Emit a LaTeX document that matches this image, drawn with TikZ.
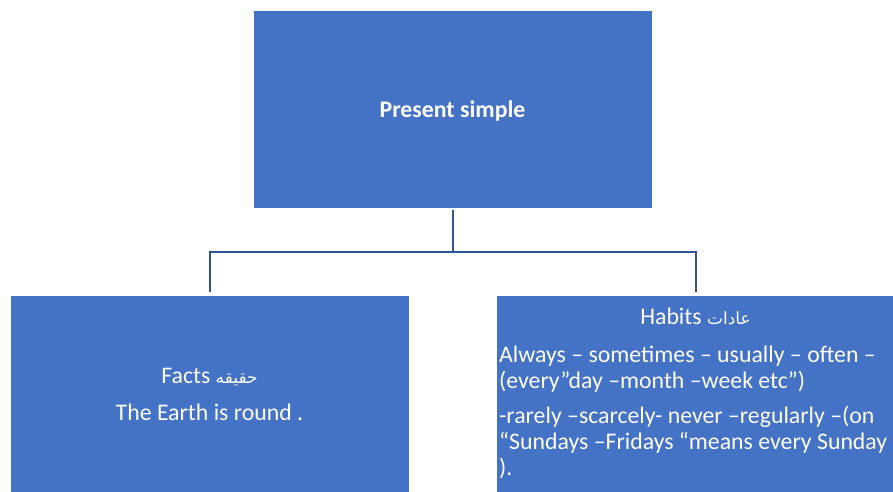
\documentclass[tikz,border=0pt]{standalone}
\usepackage{fontspec}
\setmainfont{Carlito}
\newfontfamily\arabicfont[Script=Arabic]{DejaVu Sans}
\TeXXeTstate=1
\definecolor{boxblue}{HTML}{4472C4}
\definecolor{connblue}{HTML}{2F5597}
\tikzset{
  boxnode/.style={rectangle, fill=boxblue, draw=white, line width=0.8pt, minimum width=399pt, inner sep=0pt, text=white},
  txt/.style={text=white, inner sep=0pt, font=\fontsize{23.8}{26}\selectfont},
  conn/.style={draw=connblue, line width=2pt}
}
\newcommand{\arw}[1]{{\arabicfont\fontsize{17}{20}\selectfont\beginR #1\endR}}
\begin{document}
\begin{tikzpicture}[x=1pt,y=-1pt]
\useasboundingbox (0,0) rectangle (893,491);
\clip (0,0) rectangle (893,491);
\node[boxnode, minimum height=198pt] (top) at (452.5,109) {};
\node[boxnode, minimum height=210pt] (left) at (209.5,400) {};
\node[boxnode, minimum height=210pt] (right) at (695.5,400) {};
\node[txt, anchor=base, font=\fontsize{23.8}{26}\selectfont\bfseries] (toptext) at (452.5,117) {Present simple};
\node[txt, anchor=base] (facts) at (209.5,383) {Facts \arw{حقيقه}};
\node[txt, anchor=base] (earth) at (209.5,420) {The Earth is round .};
\node[txt, anchor=base] (habits) at (695.5,324) {Habits \arw{عادات}};
\node[txt, anchor=base west, align=left] (p1) at (499,388) {Always – sometimes – usually – often –\\(every”day –month –week etc”)};
\node[txt, anchor=base west, align=left] (p2) at (499,475) {-rarely –scarcely- never –regularly –(on\\“Sundays –Fridays “means every Sunday\\).};
\coordinate (mid) at (452.5,252);
\draw[conn] (top.south) ++(0,2) -- (mid);
\draw[conn, shorten >=3pt] (mid) -| (left.north);
\draw[conn, shorten >=3pt] (mid) -| (right.north);
\end{tikzpicture}
\end{document}
